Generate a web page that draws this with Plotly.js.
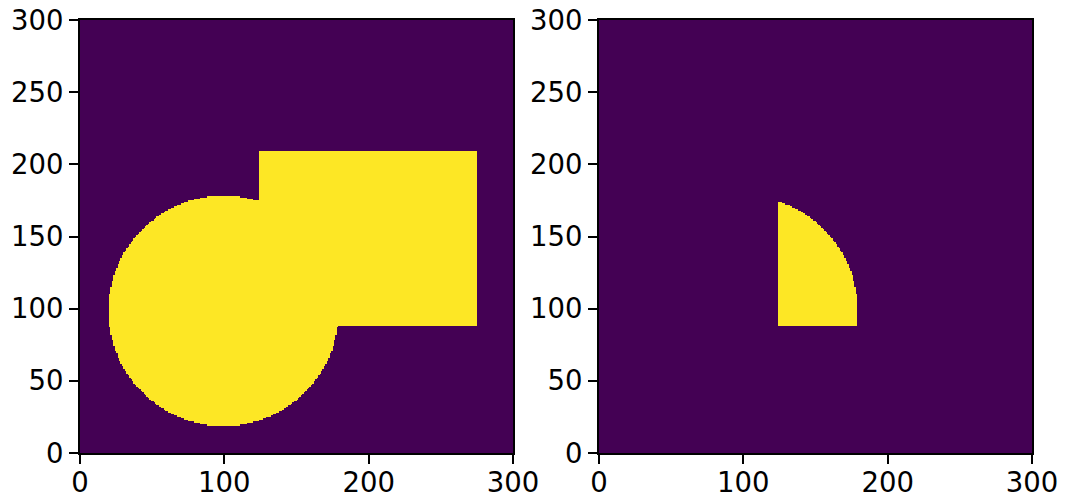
<!DOCTYPE html>
<html>
<head>
<meta charset="utf-8">
<script src="https://cdn.plot.ly/plotly-3.0.1.min.js"></script>
<style>html,body{margin:0;padding:0;background:#fff;}#chart{width:1065px;height:501px;}</style>
</head>
<body>
<div id="chart"></div>
<script>
// Image size (pixels per side)
var imageSize = [300, 300];
// Circle: centre x, centre y, radius
var circle = [99.5, 98.5, 79.8];
// Rectangle: x from, x to, y from, y to
var rect = [124, 275.3, 88.2, 209.4];
// Tick labels
var xTickValues = [0, 100, 200, 300];
var xTickLabels = ['0', '100', '200', '300'];
var yTickValues = [0, 50, 100, 150, 200, 250, 300];
var yTickLabels = ['0', '50', '100', '150', '200', '250', '300'];
// Colours of the two mask levels (viridis ends)
var maskColours = ['#440154', '#fde725'];

function inCircle(x, y) {
  var dx = x - circle[0], dy = y - circle[1];
  return dx * dx + dy * dy <= circle[2] * circle[2];
}
function inRect(x, y) {
  return x >= rect[0] && x < rect[1] && y >= rect[2] && y < rect[3];
}

var unionZ = [], interZ = [];
for (var j = 0; j < imageSize[1]; j++) {
  var ru = [], ri = [];
  for (var i = 0; i < imageSize[0]; i++) {
    var x = i + 0.5, y = j + 0.5;
    var c = inCircle(x, y), r = inRect(x, y);
    ru.push(c || r ? 1 : 0);
    ri.push(c && r ? 1 : 0);
  }
  unionZ.push(ru);
  interZ.push(ri);
}

var cs = [[0, maskColours[0]], [1, maskColours[1]]];
var traces = [
  {type: 'heatmap', z: unionZ, x0: 0.5, dx: 1, y0: 0.5, dy: 1, colorscale: cs,
   zmin: 0, zmax: 1, showscale: false, zsmooth: false, xaxis: 'x', yaxis: 'y', hoverinfo: 'skip'},
  {type: 'heatmap', z: interZ, x0: 0.5, dx: 1, y0: 0.5, dy: 1, colorscale: cs,
   zmin: 0, zmax: 1, showscale: false, zsmooth: false, xaxis: 'x2', yaxis: 'y2', hoverinfo: 'skip'}
];

function axis(vals, labels, extra) {
  var a = {
    range: [0, 300], tickmode: 'array', tickvals: vals, ticktext: labels,
    showline: true, mirror: true, linecolor: '#000', linewidth: 2,
    ticks: 'outside', ticklen: 9, tickwidth: 2, tickcolor: '#000',
    showgrid: false, zeroline: false, fixedrange: true,
    tickfont: {family: 'DejaVu Sans', size: 27.5, color: '#000'}
  };
  for (var k in extra) a[k] = extra[k];
  return a;
}

var layout = {
  width: 1065, height: 501,
  margin: {l: 80, r: 33, t: 20, b: 48, pad: 0},
  paper_bgcolor: '#fff', plot_bgcolor: '#fff',
  showlegend: false,
  xaxis: axis(xTickValues, xTickLabels, {domain: [0, 433 / 952], anchor: 'y', ticklabelstandoff: -5}),
  yaxis: axis(yTickValues, yTickLabels, {domain: [0, 1], anchor: 'x'}),
  xaxis2: axis(xTickValues, xTickLabels, {domain: [519 / 952, 1], anchor: 'y2', ticklabelstandoff: -5}),
  yaxis2: axis(yTickValues, yTickLabels, {domain: [0, 1], anchor: 'x2'})
};

Plotly.newPlot('chart', traces, layout, {displayModeBar: false, staticPlot: true});
</script>
</body>
</html>
